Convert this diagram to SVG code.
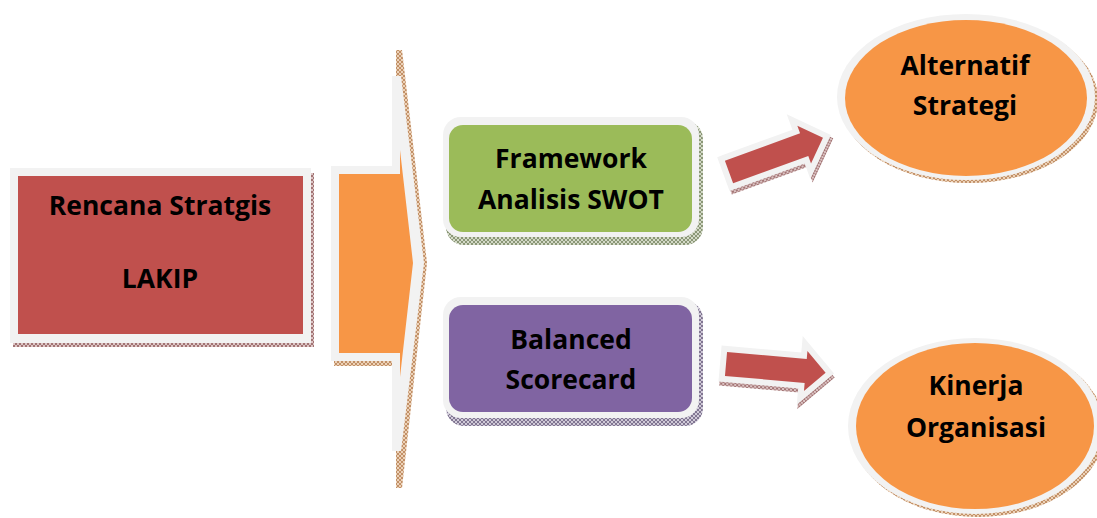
<svg xmlns="http://www.w3.org/2000/svg" width="1097" height="518" viewBox="0 0 1097 518">
  <style>
    .halo { fill: #f2f2f2; }
    .lbl { font-family: "Open Sans", Lato, "Liberation Sans", sans-serif; font-weight: 700; font-size: 26.5px; fill: #000; text-anchor: middle; }
    .red { fill: #c0504d; }
    .orange { fill: #f79646; }
    .green { fill: #9bbb59; }
    .purple { fill: #8064a2; }
  </style>
  <defs>
    <!-- cross-hatched drop shadows -->
    <pattern id="hRed" width="4" height="4" patternUnits="userSpaceOnUse">
      <rect width="4" height="4" fill="#dcc4c4"/>
      <path d="M0,0 L4,4 M4,0 L0,4" stroke="#8a5252" stroke-width="0.7"/>
    </pattern>
    <pattern id="hOrange" width="4" height="4" patternUnits="userSpaceOnUse">
      <rect width="4" height="4" fill="#ecd2b8"/>
      <path d="M0,0 L4,4 M4,0 L0,4" stroke="#b07444" stroke-width="0.7"/>
    </pattern>
    <pattern id="hGreen" width="4" height="4" patternUnits="userSpaceOnUse">
      <rect width="4" height="4" fill="#d4dac8"/>
      <path d="M0,0 L4,4 M4,0 L0,4" stroke="#6c7a54" stroke-width="0.7"/>
    </pattern>
    <pattern id="hPurple" width="4" height="4" patternUnits="userSpaceOnUse">
      <rect width="4" height="4" fill="#d0cad8"/>
      <path d="M0,0 L4,4 M4,0 L0,4" stroke="#5e5274" stroke-width="0.7"/>
    </pattern>
    <!-- block arrow, tail at origin pointing along +x -->
    <polygon id="blockArrow" points="0,-12 80,-12 80,-20 100,0 80,20 80,12 0,12"/>
  </defs>

  <!-- source box -->
  <g id="node-rencana">
    <rect x="13" y="173" width="301" height="174" fill="url(#hRed)"/>
    <rect class="halo" x="10" y="168" width="301" height="175"/>
    <rect class="red" x="18" y="176" width="285" height="158"/>
    <text class="lbl" x="160" y="215">Rencana Stratgis</text>
    <text class="lbl" x="160" y="288">LAKIP</text>
  </g>

  <!-- chevron and block arrows -->
  <g id="connectors">
    <g id="chevron">
      <polygon points="396,50 402,50 427,263 402,488 396,488" fill="url(#hOrange)"/>
      <rect x="334" y="361" width="60" height="5" fill="url(#hOrange)"/>
      <polygon class="halo" points="331,166 392,166 392,76 401,76 424,263 401,451 392,451 392,361 331,361"/>
      <polygon class="orange" points="339,174 400,174 400,150 413,263 400,377 400,353 339,353"/>
    </g>
    <g id="arrow-swot" transform="translate(729,172) rotate(-20)">
      <use href="#blockArrow" transform="translate(1,4)" fill="url(#hRed)" stroke="url(#hRed)" stroke-width="12" stroke-linejoin="miter"/>
      <use href="#blockArrow" fill="#f2f2f2" stroke="#f2f2f2" stroke-width="12" stroke-linejoin="miter"/>
      <use href="#blockArrow" class="red"/>
    </g>
    <g id="arrow-bsc" transform="translate(726,364) rotate(5)">
      <use href="#blockArrow" transform="translate(1,4)" fill="url(#hRed)" stroke="url(#hRed)" stroke-width="12" stroke-linejoin="miter"/>
      <use href="#blockArrow" fill="#f2f2f2" stroke="#f2f2f2" stroke-width="12" stroke-linejoin="miter"/>
      <use href="#blockArrow" class="red"/>
    </g>
  </g>

  <g id="node-swot">
    <rect x="446" y="121" width="257" height="124" rx="18" fill="url(#hGreen)"/>
    <rect class="halo" x="443" y="117" width="256" height="120" rx="18"/>
    <rect class="green" x="449" y="125" width="243" height="107" rx="14"/>
    <text class="lbl" x="571" y="168">Framework</text>
    <text class="lbl" x="571" y="209">Analisis SWOT</text>
  </g>

  <g id="node-bsc">
    <rect x="446" y="301" width="257" height="125" rx="18" fill="url(#hPurple)"/>
    <rect class="halo" x="443" y="297" width="256" height="121" rx="18"/>
    <rect class="purple" x="449" y="305" width="243" height="107" rx="14"/>
    <text class="lbl" x="571" y="349">Balanced</text>
    <text class="lbl" x="571" y="389">Scorecard</text>
  </g>

  <g id="node-alternatif">
    <ellipse cx="969" cy="100" rx="129" ry="83" fill="url(#hOrange)"/>
    <ellipse class="halo" cx="966" cy="97" rx="129" ry="83"/>
    <ellipse class="orange" cx="966" cy="98" rx="121" ry="78"/>
    <text class="lbl" x="965" y="75">Alternatif</text>
    <text class="lbl" x="965" y="115">Strategi</text>
  </g>

  <g id="node-kinerja">
    <ellipse cx="978" cy="429" rx="127" ry="88" fill="url(#hOrange)"/>
    <ellipse class="halo" cx="975" cy="426" rx="127" ry="88"/>
    <ellipse class="orange" cx="975" cy="426" rx="119" ry="83"/>
    <text class="lbl" x="976" y="395">Kinerja</text>
    <text class="lbl" x="976" y="437">Organisasi</text>
  </g>
</svg>
